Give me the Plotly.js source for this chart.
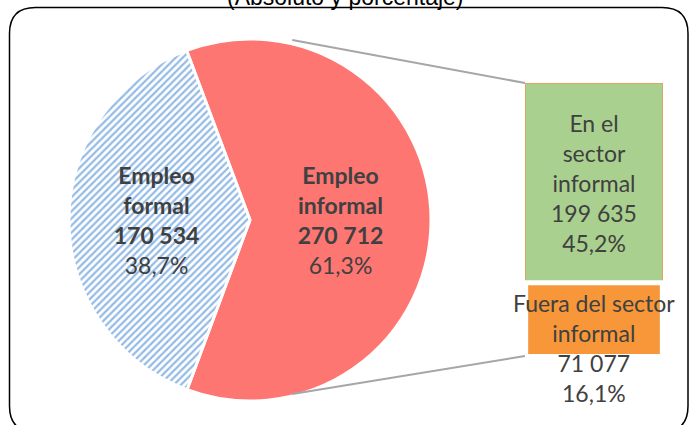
<!DOCTYPE html>
<html>
<head>
<meta charset="utf-8">
<script src="https://cdn.plot.ly/plotly-3.0.1.min.js"></script>
<style>html,body{margin:0;padding:0;background:#fff;}#chart{width:690px;height:425px;}</style>
</head>
<body>
<div id="chart"></div>
<script>
// ---- data ----
const pieLabels = ['Empleo<br>informal', 'Empleo<br>formal'];
const pieValues = [270712, 170534];
const piePercents = ['61,3%', '38,7%'];

const barCategory = ['Empleo informal'];
const barLabels = ['Fuera del sector<br>informal', 'En el<br>sector<br>informal'];
const barValues = [71077, 199635];
const barPercents = ['16,1%', '45,2%'];

const titleText = '(Absoluto y porcentaje)';

// ---- geometry (pixels) ----
const W = 690, H = 425;
const cx = 250, cy = 220, R = 181;
const barL = 525, barR = 663, barTop = 83, barBot = 354;
const px = x => x / W, py = y => 1 - y / H;
const txtColor = '#404040';
const FONT = 'Lato, "Open Sans", sans-serif';
const FS = 23;
const total = barValues.reduce((a, b) => a + b, 0);
const fmt = v => String(v).replace(/\B(?=(\d{3})+(?!\d))/g, ' ');

const pie = {
  type: 'pie',
  labels: pieLabels,
  values: pieValues,
  text: piePercents,
  sort: false,
  direction: 'clockwise',
  rotation: -20.5,
  domain: {x: [px(cx - R), px(cx + R)], y: [py(cy + R), py(cy - R)]},
  textposition: 'inside',
  insidetextorientation: 'horizontal',
  texttemplate: '<b>%{label}<br>%{value:,}</b><br>%{text}',
  textfont: {family: FONT, size: FS, color: txtColor},
  marker: {
    colors: ['#fe7672', '#d6e5f5'],
    line: {color: '#ffffff', width: 3},
    pattern: {shape: ['', '/'], fgcolor: ['#fe7672', '#94bbe6'], size: 5, solidity: 0.45, fillmode: 'replace'}
  },
  hoverinfo: 'none',
  showlegend: false
};

const barBottom = {
  type: 'bar', x: barCategory, y: [barValues[0]],
  xaxis: 'x2', yaxis: 'y2', width: 0.95,
  marker: {color: '#f7973a', line: {color: '#f2a865', width: 1}},
  textposition: 'none',
  hoverinfo: 'none', showlegend: false
};
const barTopTrace = {
  type: 'bar', x: barCategory, y: [barValues[1]],
  xaxis: 'x2', yaxis: 'y2',
  marker: {color: '#a9d08e', line: {color: '#dba861', width: 2}},
  text: [barLabels[1] + '<br>' + fmt(barValues[1]) + '<br>' + barPercents[1]],
  textposition: 'inside', insidetextanchor: 'middle', textangle: 0,
  insidetextfont: {family: FONT, size: FS, color: txtColor},
  constraintext: 'none',
  hoverinfo: 'none', showlegend: false
};

// rounded frame
const fl = 9.5, ft = 7.5, fr = 688, fb = 432, rr = 26;
const framePath = [
  'M', px(fl), py(ft + rr),
  'Q', px(fl), py(ft), px(fl + rr), py(ft),
  'L', px(fr - rr), py(ft),
  'Q', px(fr), py(ft), px(fr), py(ft + rr),
  'L', px(fr), py(fb - rr),
  'Q', px(fr), py(fb), px(fr - rr), py(fb),
  'L', px(fl + rr), py(fb),
  'Q', px(fl), py(fb), px(fl), py(fb - rr),
  'Z'
].join(' ');

// connector start points on pie rim
const ang = 13.5 * Math.PI / 180;
const sx = cx + R * Math.sin(ang);
const syTop = cy - R * Math.cos(ang) - 4;
const syBot = cy + R * Math.cos(ang) - 2;

const layout = {
  width: W, height: H,
  margin: {l: 0, r: 0, t: 0, b: 0},
  paper_bgcolor: '#ffffff', plot_bgcolor: 'rgba(0,0,0,0)',
  separators: ', ',
  barmode: 'stack', bargap: 0,
  xaxis2: {domain: [px(barL), px(barR)], anchor: 'y2', range: [-0.5, 0.5], visible: false, fixedrange: true},
  yaxis2: {domain: [py(barBot), py(barTop)], anchor: 'x2', range: [0, total], autorange: false, visible: false, fixedrange: true},
  shapes: [
    {type: 'path', xref: 'paper', yref: 'paper', path: framePath, line: {color: '#000000', width: 1.5}, fillcolor: 'rgba(0,0,0,0)', layer: 'below'},
    {type: 'line', xref: 'paper', yref: 'paper', x0: px(sx), y0: py(syTop), x1: px(barL), y1: py(barTop), line: {color: '#a6a6a6', width: 2}},
    {type: 'line', xref: 'paper', yref: 'paper', x0: px(sx), y0: py(syBot), x1: px(barL), y1: py(barBot + 2), line: {color: '#a6a6a6', width: 2}},
    // white gap between the two stacked segments
    {type: 'line', xref: 'x2', yref: 'y2', x0: -0.5, x1: 0.5, y0: barValues[0], y1: barValues[0], line: {color: '#ffffff', width: 5}}
  ],
  annotations: [
    {xref: 'paper', yref: 'paper', x: 0.5, y: 1, yanchor: 'bottom', yshift: -12, showarrow: false,
     text: titleText, font: {family: 'Liberation Sans, Arial, sans-serif', size: 23, color: '#000000'}},
    {xref: 'x2', yref: 'y2', x: barCategory[0], y: barValues[0], yanchor: 'top', yshift: -4, showarrow: false,
     text: barLabels[0] + '<br>' + fmt(barValues[0]) + '<br>' + barPercents[0],
     font: {family: FONT, size: FS, color: txtColor}}
  ]
};

Plotly.newPlot('chart', [pie, barBottom, barTopTrace], layout, {displayModeBar: false, staticPlot: true});
</script>
</body>
</html>
